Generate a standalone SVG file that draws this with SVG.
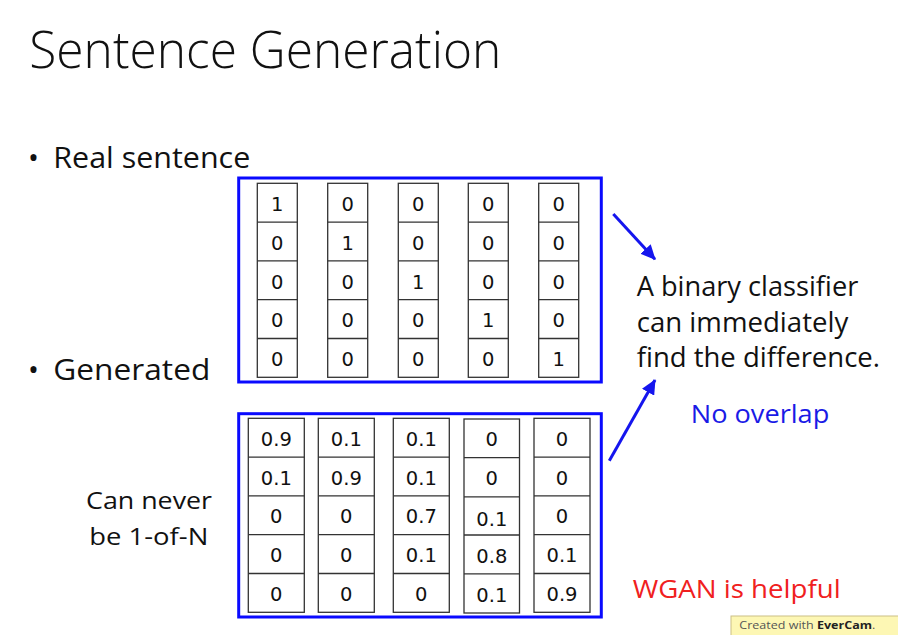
<svg xmlns="http://www.w3.org/2000/svg" width="898" height="635" viewBox="0 0 898 635">
<defs>
<style>
.t{font-family:"Open Sans","Liberation Sans",sans-serif;fill:#111}
.c{font-family:"DejaVu Sans","Liberation Sans",sans-serif;font-size:19.5px;fill:#111;text-anchor:middle}
.cell{fill:#fff;stroke:#333;stroke-width:1.3}
.frame{fill:none;stroke:#0a0aff;stroke-width:3}
.arr{stroke:#1515ee;stroke-width:3;fill:none}
</style>
<marker id="ah" markerUnits="userSpaceOnUse" markerWidth="16" markerHeight="14" refX="14" refY="7" orient="auto">
<path d="M0,0 L15,7 L0,14 Z" fill="#1515ee"/>
</marker>
</defs>
<rect width="898" height="635" fill="#fff"/>

<g id="title">
<text class="t" x="29.3" y="68.3" font-size="51" font-weight="300" textLength="472" lengthAdjust="spacingAndGlyphs">Sentence Generation</text>
</g>

<g id="bullets">
<text class="t" x="28" y="167.7" font-size="29">•</text>
<text class="t" x="53.3" y="167.7" font-size="29" textLength="197" lengthAdjust="spacingAndGlyphs">Real sentence</text>
<text class="t" x="28" y="380" font-size="29">•</text>
<text class="t" x="53.3" y="380" font-size="29" textLength="157" lengthAdjust="spacingAndGlyphs">Generated</text>
</g>

<g id="note-left">
<text class="t" x="86" y="509.3" font-size="24" textLength="126" lengthAdjust="spacingAndGlyphs">Can never</text>
<text class="t" x="89.3" y="545" font-size="24" textLength="119" lengthAdjust="spacingAndGlyphs">be 1-of-N</text>
</g>

<g id="real">
<rect class="frame" x="238.7" y="178" width="362.6" height="204"/>
<g id="real-cells">
<rect class="cell" x="257.3" y="183.3" width="40" height="194"/>
<rect class="cell" x="327.7" y="183.3" width="40" height="194"/>
<rect class="cell" x="398.3" y="183.3" width="40" height="194"/>
<rect class="cell" x="468.3" y="183.3" width="40" height="194"/>
<rect class="cell" x="538.7" y="183.3" width="40" height="194"/>
<path stroke="#333" stroke-width="1.3" d="M257.3,222.1h40M257.3,260.9h40M257.3,299.7h40M257.3,338.5h40
M327.7,222.1h40M327.7,260.9h40M327.7,299.7h40M327.7,338.5h40
M398.3,222.1h40M398.3,260.9h40M398.3,299.7h40M398.3,338.5h40
M468.3,222.1h40M468.3,260.9h40M468.3,299.7h40M468.3,338.5h40
M538.7,222.1h40M538.7,260.9h40M538.7,299.7h40M538.7,338.5h40"/>
</g>
<g id="real-values">
<text class="c" x="277.3" y="211">1</text><text class="c" x="277.3" y="249.8">0</text><text class="c" x="277.3" y="288.6">0</text><text class="c" x="277.3" y="327.4">0</text><text class="c" x="277.3" y="366.2">0</text>
<text class="c" x="347.7" y="211">0</text><text class="c" x="347.7" y="249.8">1</text><text class="c" x="347.7" y="288.6">0</text><text class="c" x="347.7" y="327.4">0</text><text class="c" x="347.7" y="366.2">0</text>
<text class="c" x="418.3" y="211">0</text><text class="c" x="418.3" y="249.8">0</text><text class="c" x="418.3" y="288.6">1</text><text class="c" x="418.3" y="327.4">0</text><text class="c" x="418.3" y="366.2">0</text>
<text class="c" x="488.3" y="211">0</text><text class="c" x="488.3" y="249.8">0</text><text class="c" x="488.3" y="288.6">0</text><text class="c" x="488.3" y="327.4">1</text><text class="c" x="488.3" y="366.2">0</text>
<text class="c" x="558.7" y="211">0</text><text class="c" x="558.7" y="249.8">0</text><text class="c" x="558.7" y="288.6">0</text><text class="c" x="558.7" y="327.4">0</text><text class="c" x="558.7" y="366.2">1</text>
</g>
</g>

<g id="generated">
<rect class="frame" x="238.7" y="413.7" width="362.6" height="203.3"/>
<g id="gen-cells">
<rect class="cell" x="248.3" y="418.3" width="56" height="194"/>
<rect class="cell" x="318.3" y="418.3" width="56" height="194"/>
<rect class="cell" x="393.3" y="418.3" width="56" height="194"/>
<rect class="cell" x="464" y="419" width="55.5" height="194"/>
<rect class="cell" x="534" y="418.3" width="56" height="194"/>
<path stroke="#333" stroke-width="1.3" d="M248.3,457.1h56M248.3,495.9h56M248.3,534.7h56M248.3,573.5h56
M318.3,457.1h56M318.3,495.9h56M318.3,534.7h56M318.3,573.5h56
M393.3,457.1h56M393.3,495.9h56M393.3,534.7h56M393.3,573.5h56
M464,457.6h55.5M464,496.8h55.5M464,535h55.5M464,573.8h55.5
M534,457.1h56M534,495.9h56M534,534.7h56M534,573.5h56"/>
</g>
<g id="gen-values">
<text class="c" x="276.3" y="445.7">0.9</text><text class="c" x="276.3" y="484.5">0.1</text><text class="c" x="276.3" y="523.3">0</text><text class="c" x="276.3" y="562.1">0</text><text class="c" x="276.3" y="600.9">0</text>
<text class="c" x="346.3" y="445.7">0.1</text><text class="c" x="346.3" y="484.5">0.9</text><text class="c" x="346.3" y="523.3">0</text><text class="c" x="346.3" y="562.1">0</text><text class="c" x="346.3" y="600.9">0</text>
<text class="c" x="421.3" y="445.7">0.1</text><text class="c" x="421.3" y="484.5">0.1</text><text class="c" x="421.3" y="523.3">0.7</text><text class="c" x="421.3" y="562.1">0.1</text><text class="c" x="421.3" y="600.9">0</text>
<text class="c" x="491.8" y="446">0</text><text class="c" x="491.8" y="485">0</text><text class="c" x="491.8" y="525.8">0.1</text><text class="c" x="491.8" y="562.5">0.8</text><text class="c" x="491.8" y="602">0.1</text>
<text class="c" x="562" y="445.7">0</text><text class="c" x="562" y="484.5">0</text><text class="c" x="562" y="523.3">0</text><text class="c" x="562" y="562.1">0.1</text><text class="c" x="562" y="600.9">0.9</text>
</g>
</g>

<g id="connectors">
<line class="arr" x1="613.3" y1="214" x2="655" y2="259.3" marker-end="url(#ah)"/>
<line class="arr" x1="609.3" y1="460.7" x2="655" y2="380" marker-end="url(#ah)"/>
</g>

<g id="classifier-note">
<text class="t" x="636.7" y="295.5" font-size="27" textLength="221.6" lengthAdjust="spacingAndGlyphs">A binary classifier</text>
<text class="t" x="636.7" y="331.7" font-size="27" textLength="211.6" lengthAdjust="spacingAndGlyphs">can immediately</text>
<text class="t" x="636.7" y="367" font-size="27" textLength="243.3" lengthAdjust="spacingAndGlyphs">find the difference.</text>
</g>

<g id="no-overlap">
<text class="t" x="690.7" y="422.7" font-size="25" style="fill:#1a1ae6" textLength="138.6" lengthAdjust="spacingAndGlyphs">No overlap</text>
</g>

<g id="wgan">
<text class="t" x="632.7" y="598.3" font-size="25" style="fill:#f02020" textLength="208" lengthAdjust="spacingAndGlyphs">WGAN is helpful</text>
</g>

<g id="badge">
<rect x="731" y="616" width="170" height="25" fill="#fdf7b4" stroke="#cbbf86" stroke-width="1"/>
<text x="739.3" y="629.3" font-family="Open Sans, Liberation Sans, sans-serif" font-size="11" fill="#555" textLength="136" lengthAdjust="spacingAndGlyphs">Created with <tspan font-weight="bold" fill="#222">EverCam</tspan>.</text>
</g>
</svg>
